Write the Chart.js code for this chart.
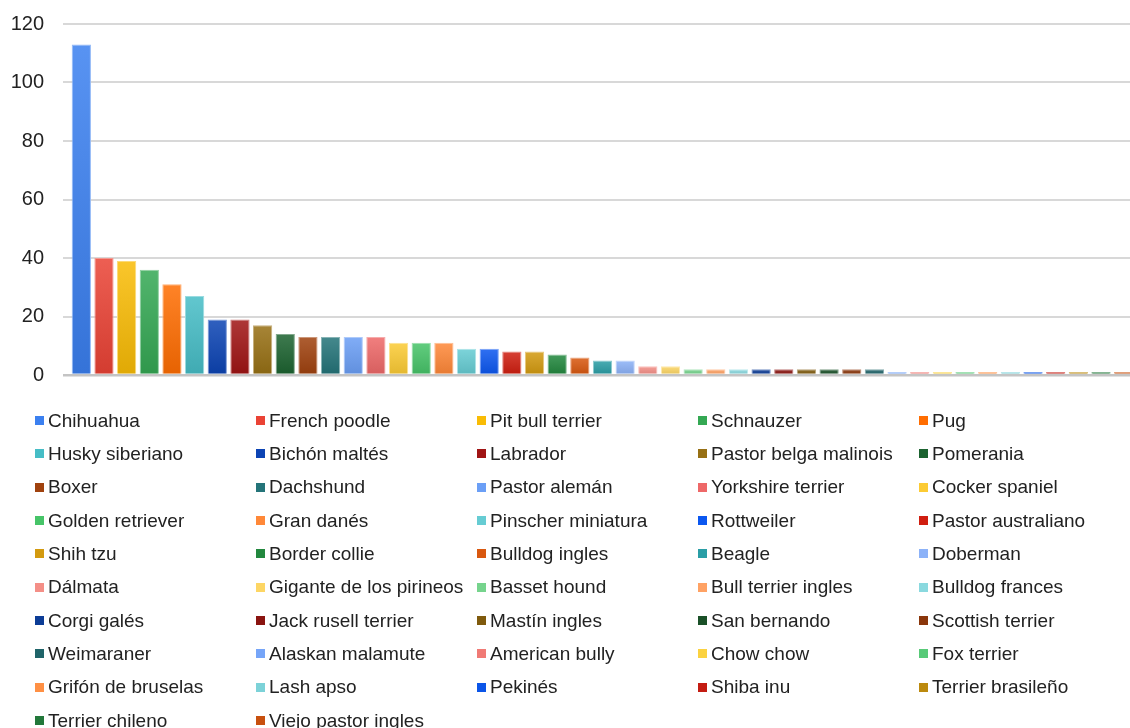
<!DOCTYPE html>
<html>
<head>
<meta charset="utf-8">
<script src="https://cdn.jsdelivr.net/npm/chart.js@4/dist/chart.umd.min.js"></script>
<style>
  html, body { margin: 0; padding: 0; background: #fff; overflow: hidden; }
  #wrap { position: relative; width: 1130px; height: 728px; overflow: hidden; }
  #chartBox { position: absolute; left: 0; top: -7px; width: 1136px; height: 413px; }
  #legend {
    position: absolute; left: 35px; top: 404px;
    display: grid; grid-template-columns: repeat(5, 221px); grid-auto-rows: 33.33px;
    font-family: 'Liberation Sans', Arial, sans-serif; font-size: 19px; color: #222;
  }
  .item { display: flex; align-items: center; white-space: nowrap; }
  .sw { width: 9px; height: 9px; margin-right: 4px; flex: none; }
</style>
</head>
<body>
<div id="wrap">
  <div id="chartBox"><canvas id="chart" width="1136" height="413"></canvas></div>
  <div id="legend"></div>
</div>
<script>
/* ─── Data ─────────────────────────────────────── */
const BREEDS = [
  'Chihuahua', 'French poodle', 'Pit bull terrier', 'Schnauzer', 'Pug',
  'Husky siberiano', 'Bichón maltés', 'Labrador', 'Pastor belga malinois', 'Pomerania',
  'Boxer', 'Dachshund', 'Pastor alemán', 'Yorkshire terrier', 'Cocker spaniel',
  'Golden retriever', 'Gran danés', 'Pinscher miniatura', 'Rottweiler', 'Pastor australiano',
  'Shih tzu', 'Border collie', 'Bulldog ingles', 'Beagle', 'Doberman',
  'Dálmata', 'Gigante de los pirineos', 'Basset hound', 'Bull terrier ingles', 'Bulldog frances',
  'Corgi galés', 'Jack rusell terrier', 'Mastín ingles', 'San bernando', 'Scottish terrier',
  'Weimaraner', 'Alaskan malamute', 'American bully', 'Chow chow', 'Fox terrier',
  'Grifón de bruselas', 'Lash apso', 'Pekinés', 'Shiba inu', 'Terrier brasileño',
  'Terrier chileno', 'Viejo pastor ingles',
];

const COUNTS = [
  113, 40, 39, 36, 31,
  27, 19, 19, 17, 14,
  13, 13, 13, 13, 11,
  11, 11, 9, 9, 8,
  8, 7, 6, 5, 5,
  3, 3, 2, 2, 2,
  2, 2, 2, 2, 2,
  2, 1, 1, 1, 1,
  1, 1, 1, 1, 1,
  1, 1,
];

const Y_TICKS = [0, 20, 40, 60, 80, 100, 120];

/* ─── Style ────────────────────────────────────── */
const COLORS = [
  '#3b80f0', '#ea4335', '#f9bc05', '#34a853', '#ff6d01',
  '#46bdc6', '#0c44b4', '#a01414', '#977014', '#1c6330',
  '#a0420e', '#247479', '#6b9ff6', '#ee6868', '#fccb34',
  '#46c468', '#ff8838', '#66ccd3', '#0b57f0', '#d01e10',
  '#d39a0f', '#22883e', '#d9580f', '#2a9ea6', '#8cb2f8',
  '#f48f87', '#fdd664', '#76d48d', '#ffa264', '#8ad9df',
  '#0c3c96', '#8a1410', '#7f5a0d', '#1a5028', '#8a360b',
  '#1f6469', '#76a5f8', '#f07a75', '#fbd240', '#58ca78',
  '#ff9044', '#7cd2d8', '#0b55e8', '#c41c12', '#bc8a0e',
  '#22783a', '#c8500e',
];

/* ─── Helpers ──────────────────────────────────── */
function mix(hex, target, amt) {
  const n = parseInt(hex.slice(1), 16);
  const r = (n >> 16) & 255, g = (n >> 8) & 255, b = n & 255;
  const f = c => Math.round(c + (target - c) * amt);
  return `rgb(${f(r)},${f(g)},${f(b)})`;
}

function barFill(ctx) {
  const chart = ctx.chart;
  const base  = COLORS[ctx.dataIndex];
  if (!chart.chartArea || !chart.scales.y) return base;
  const y   = chart.scales.y;
  const top = y.getPixelForValue(COUNTS[ctx.dataIndex]);
  const bot = y.getPixelForValue(0);
  if (!isFinite(top) || bot - top < 1) return base;
  const g = chart.ctx.createLinearGradient(0, top, 0, bot);
  g.addColorStop(0, mix(base, 255, 0.15));
  g.addColorStop(1, mix(base, 0, 0.1));
  return g;
}

/* ─── Chart ────────────────────────────────────── */
new Chart(document.getElementById('chart'), {
  type: 'bar',
  data: {
    labels: BREEDS,
    datasets: [{
      data: COUNTS,
      backgroundColor: barFill,
      borderColor: COLORS.map(c => mix(c, 255, 0.45)),
      borderWidth: 1,
      barPercentage: 0.85,
      categoryPercentage: 1,
    }],
  },
  options: {
    responsive: false,
    animation: false,
    // top/bottom room comes from the tick label half-height + tick padding (~31px)
    layout: { padding: { top: 0, left: 10, right: 1, bottom: 0 } },
    plugins: { legend: { display: false }, tooltip: { enabled: false } },
    scales: {
      x: { display: false },
      y: {
        min: 0,
        max: 120,
        afterBuildTicks: axis => { axis.ticks = Y_TICKS.map(v => ({ value: v })); },
        afterFit: axis => { axis.width = 60; },
        border: { display: false },
        grid: {
          color: c => c.tick && c.tick.value === 0 ? '#c4c4c4' : '#d8d8d8',
          lineWidth: c => c.tick && c.tick.value === 0 ? 2.5 : 2,
          tickLength: 7,
        },
        ticks: {
          padding: 19,
          color: '#222',
          font: { family: "'Liberation Sans', Arial, sans-serif", size: 20 },
        },
      },
    },
  },
});

/* ─── Legend ───────────────────────────────────── */
const legend = document.getElementById('legend');
BREEDS.forEach((name, i) => {
  const item = document.createElement('div');
  item.className = 'item';
  const sw = document.createElement('span');
  sw.className = 'sw';
  sw.style.background = COLORS[i];
  item.appendChild(sw);
  item.appendChild(document.createTextNode(name));
  legend.appendChild(item);
});
</script>
</body>
</html>
